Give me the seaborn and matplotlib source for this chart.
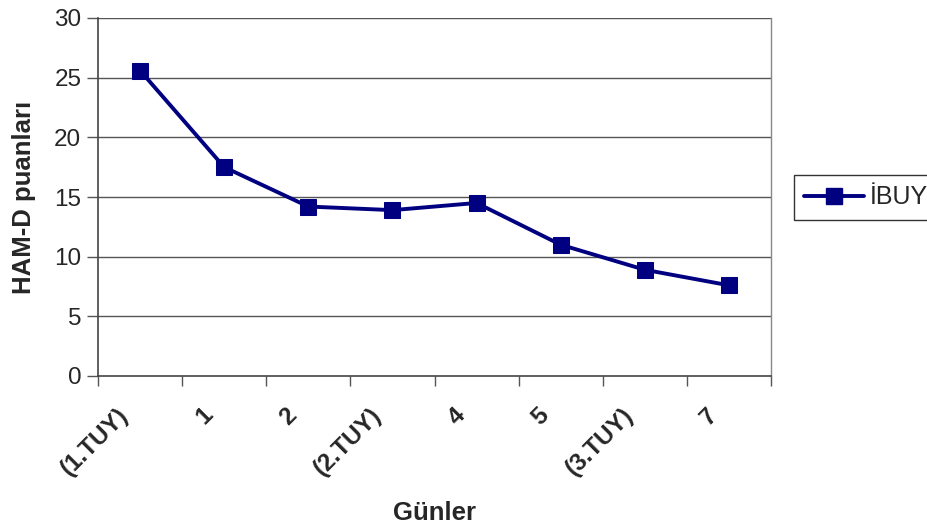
import matplotlib
matplotlib.use("Agg")
import matplotlib.pyplot as plt
import matplotlib.transforms as mtransforms
import seaborn as sns
import pandas as pd
import numpy as np

# HAM-D scores over treatment days
gunler = ["(1.TUY)", "1", "2", "(2.TUY)", "4", "5", "(3.TUY)", "7"]
ibuy = [25.6, 17.5, 14.2, 13.9, 14.5, 11.0, 8.9, 7.6]
series_name = "İBUY"

df = pd.DataFrame({"pos": np.arange(len(gunler)), "score": ibuy, "grup": series_name})

sns.set_style("white")
plt.rcParams["font.family"] = ["Liberation Sans", "DejaVu Sans"]

fig = plt.figure(figsize=(9.28, 5.27), dpi=100)
ax = fig.add_axes([98 / 928, 1 - 376 / 527, (771 - 98) / 928, (376 - 18) / 527])

navy = "#000080"
sns.lineplot(data=df, x="pos", y="score", hue="grup", palette=[navy],
             marker="s", markersize=11, markeredgecolor=navy,
             linewidth=2.8, ax=ax, legend=False)

ax.set_xlim(-0.5, len(gunler) - 0.5)
ax.set_ylim(0, 30)
ax.set_yticks(np.arange(0, 31, 5))
for y in range(5, 31, 5):
    ax.axhline(y, color="#555555", linewidth=1.0, zorder=0)

# category labels centred, tick marks on category boundaries
ax.set_xticks(np.arange(len(gunler)))
ax.set_xticklabels(gunler, rotation=45, ha="right", va="center",
                   rotation_mode="anchor", fontsize=17.5, fontweight="bold")
ax.set_xticks(np.arange(-0.5, len(gunler)), minor=True)
ax.tick_params(axis="x", which="major", length=0, pad=25.5)
ax.tick_params(axis="x", which="minor", length=7, width=1, color="#555555",
               direction="out", bottom=True)
shift = mtransforms.ScaledTranslation(-15 / 100, 0, fig.dpi_scale_trans)
for lbl in ax.get_xticklabels():
    lbl.set_transform(lbl.get_transform() + shift)

ax.tick_params(axis="y", length=8, width=1, color="#555555", direction="out",
               labelsize=17.5, pad=4, left=True)

for side in ["left", "bottom"]:
    ax.spines[side].set_color("#444444")
    ax.spines[side].set_linewidth(1.2)
ax.spines["right"].set_color("#888888")
ax.spines["right"].set_linewidth(1.0)
ax.spines["top"].set_visible(False)

ax.set_xlabel("Günler", fontsize=18.5, fontweight="bold")
ax.set_ylabel("HAM-D puanları", fontsize=18.5, fontweight="bold")
ax.xaxis.set_label_coords(0.5, -0.349)
ax.yaxis.set_label_coords(-0.092, 0.5)

handle = plt.Line2D([], [], color=navy, linewidth=2.8, marker="s",
                    markersize=11, markeredgecolor=navy)
leg = fig.legend([handle], [series_name], loc="upper left",
                 bbox_to_anchor=(794 / 928, 1 - 175 / 527), frameon=True,
                 fancybox=False, fontsize=18, handlelength=2.4,
                 handletextpad=0.2, borderpad=0.42, borderaxespad=0)
leg.get_frame().set_edgecolor("black")
leg.get_frame().set_linewidth(1.0)

fig.savefig("out.png", dpi=100)
